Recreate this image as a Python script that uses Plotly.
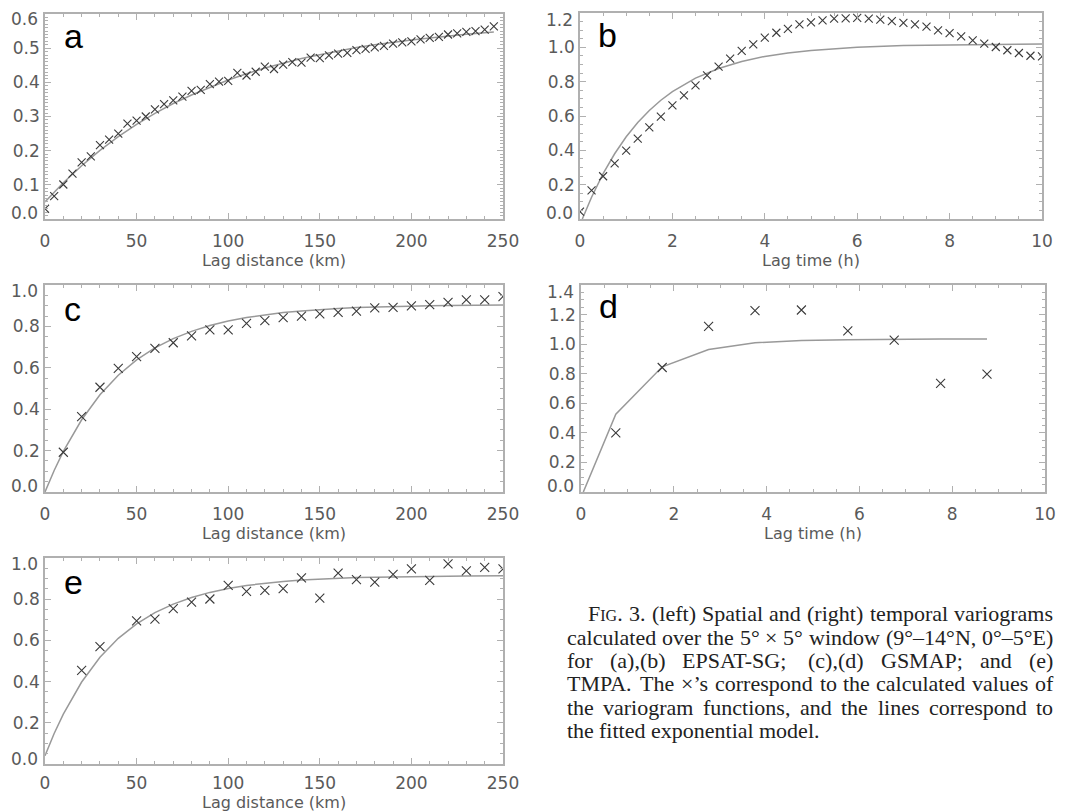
import plotly.graph_objects as go

W, H = 1065, 812
OFF = 8  # the page body margin shifts the figure by this many pixels

# ---------------- data ----------------
# (a) spatial variogram, EPSAT-SG
a_lag = [0, 5, 10, 15, 20, 25, 30, 35, 40, 45, 50, 55, 60, 65, 70, 75, 80, 85, 90, 95,
         100, 105, 110, 115, 120, 125, 130, 135, 140, 145, 150, 155, 160, 165, 170, 175,
         180, 185, 190, 195, 200, 205, 210, 215, 220, 225, 230, 235, 240, 245]
a_val = [0.030, 0.067, 0.101, 0.133, 0.166, 0.183, 0.216, 0.232, 0.250, 0.279, 0.288, 0.300,
         0.321, 0.336, 0.347, 0.358, 0.375, 0.378, 0.395, 0.402, 0.404, 0.428, 0.420, 0.431,
         0.446, 0.439, 0.452, 0.459, 0.458, 0.472, 0.471, 0.479, 0.484, 0.486, 0.494, 0.498,
         0.502, 0.507, 0.513, 0.517, 0.520, 0.526, 0.530, 0.533, 0.540, 0.543, 0.548, 0.550,
         0.554, 0.564]
a_fit_lag = [0, 10, 20, 30, 40, 50, 60, 70, 80, 90, 100, 110, 120, 130, 140, 150, 160, 170,
             180, 190, 200, 210, 220, 230, 240, 245]
a_fit_val = [0.050, 0.106, 0.156, 0.201, 0.241, 0.277, 0.309, 0.338, 0.363, 0.386, 0.407,
             0.425, 0.442, 0.456, 0.470, 0.481, 0.492, 0.502, 0.510, 0.518, 0.524, 0.530,
             0.536, 0.541, 0.545, 0.547]

# (b) temporal variogram, EPSAT-SG
b_lag = [0, 0.25, 0.5, 0.75, 1.0, 1.25, 1.5, 1.75, 2.0, 2.25, 2.5, 2.75, 3.0, 3.25, 3.5, 3.75,
         4.0, 4.25, 4.5, 4.75, 5.0, 5.25, 5.5, 5.75, 6.0, 6.25, 6.5, 6.75, 7.0, 7.25, 7.5, 7.75,
         8.0, 8.25, 8.5, 8.75, 9.0, 9.25, 9.5, 9.75, 10.0]
b_val = [0.043, 0.167, 0.249, 0.324, 0.398, 0.468, 0.534, 0.596, 0.662, 0.720, 0.779, 0.837,
         0.887, 0.934, 0.979, 1.017, 1.056, 1.085, 1.107, 1.134, 1.146, 1.157, 1.167, 1.169,
         1.171, 1.167, 1.161, 1.153, 1.142, 1.134, 1.120, 1.099, 1.083, 1.064, 1.041, 1.021,
         1.002, 0.983, 0.967, 0.951, 0.947]
b_fit_lag = [0.05, 0.25, 0.5, 0.75, 1.0, 1.25, 1.5, 1.75, 2.0, 2.5, 3.0, 3.5, 4.0, 4.5, 5.0,
             6.0, 7.0, 8.0, 9.0, 10.0]
b_fit_val = [0.0, 0.127, 0.264, 0.380, 0.479, 0.562, 0.632, 0.692, 0.742, 0.821, 0.877, 0.918,
             0.947, 0.967, 0.982, 1.001, 1.010, 1.015, 1.017, 1.019]

# (c) spatial variogram, GSMAP
c_lag = [10, 20, 30, 40, 50, 60, 70, 80, 90, 100, 110, 120, 130, 140, 150, 160, 170, 180,
         190, 200, 210, 220, 230, 240, 250]
c_val = [0.192, 0.364, 0.506, 0.597, 0.654, 0.694, 0.721, 0.754, 0.783, 0.783, 0.815, 0.828,
         0.842, 0.850, 0.860, 0.868, 0.874, 0.890, 0.892, 0.899, 0.905, 0.916, 0.928, 0.928,
         0.944]
c_fit_lag = [0, 5, 10, 20, 30, 40, 50, 60, 70, 80, 90, 100, 110, 120, 130, 140, 150, 160, 170,
             180, 190, 200, 210, 220, 230, 240, 250]
c_fit_val = [0.0, 0.104, 0.196, 0.349, 0.470, 0.564, 0.638, 0.696, 0.741, 0.776, 0.804, 0.826,
             0.843, 0.856, 0.867, 0.875, 0.882, 0.887, 0.891, 0.894, 0.896, 0.898, 0.900, 0.901,
             0.902, 0.902, 0.903]

# (d) temporal variogram, GSMAP
d_lag = [0.75, 1.75, 2.75, 3.75, 4.75, 5.75, 6.75, 7.75, 8.75]
d_val = [0.400, 0.842, 1.120, 1.226, 1.231, 1.090, 1.027, 0.734, 0.797]
d_fit_lag = [0.05, 0.75, 1.75, 2.75, 3.75, 4.75, 5.75, 6.75, 7.75, 8.75]
d_fit_val = [0.0, 0.526, 0.847, 0.964, 1.009, 1.025, 1.030, 1.034, 1.034, 1.034]

# (e) spatial variogram, TMPA
e_lag = [20, 30, 50, 60, 70, 80, 90, 100, 110, 120, 130, 140, 150, 160, 170, 180, 190, 200,
         210, 220, 230, 240, 250]
e_val = [0.454, 0.570, 0.695, 0.703, 0.754, 0.786, 0.801, 0.867, 0.838, 0.843, 0.851, 0.903,
         0.805, 0.927, 0.895, 0.883, 0.921, 0.947, 0.891, 0.971, 0.937, 0.955, 0.947]
e_fit_lag = [0, 5, 10, 20, 30, 40, 50, 60, 70, 80, 90, 100, 110, 120, 130, 140, 150, 160, 170,
             180, 190, 200, 210, 220, 230, 240, 250]
e_fit_val = [0.040, 0.148, 0.242, 0.398, 0.518, 0.610, 0.680, 0.735, 0.776, 0.808, 0.833, 0.852,
             0.867, 0.878, 0.886, 0.893, 0.898, 0.902, 0.905, 0.907, 0.909, 0.910, 0.911, 0.912,
             0.913, 0.913, 0.914]

panel_letters = ["a", "b", "c", "d", "e"]
x_titles = ["Lag distance (km)", "Lag time (h)", "Lag distance (km)", "Lag time (h)",
            "Lag distance (km)"]

# caption, word by word ("FIG" is set in small capitals)
caption_lines = [
    "FIG. 3. (left) Spatial and (right) temporal variograms",
    "calculated over the 5° × 5° window (9°–14°N, 0°–5°E)",
    "for (a),(b) EPSAT-SG; (c),(d) GSMAP; and (e)",
    "TMPA. The ×’s correspond to the calculated values of",
    "the variogram functions, and the lines correspond to",
    "the fitted exponential model.",
]

# ---------------- layout geometry (screen pixels) ----------------
frames = [(45, 503, 14, 219), (580, 1042, 13, 219), (45, 503, 285, 492),
          (581, 1045, 285, 492), (45, 503, 558, 764)]
x_ranges = [[0, 250], [0, 10], [0, 250], [0, 10], [0, 250]]
y_ranges = [[0, 0.6], [0, 1.2], [0, 1.0], [0, 1.4], [0, 1.0]]
x_dticks = [50, 2, 50, 2, 50]
x_minor = [10, 0.5, 10, 0.5, 10]
y_dticks = [0.1, 0.2, 0.2, 0.2, 0.2]
y_minor = [0.01, 0.05, 0.05, 0.05, 0.05]
x_label_standoff = [6, 6, 6, 6, 3]
marker_sizes = [8, 8, 9, 9, 9]
letter_pos = [(62, 36), (596, 35), (62, 309), (597, 306), (62, 582)]
# end-of-axis y labels are nudged inside the frame, as in the original
y_end_label_pos = [(213, 19), (213, 20), (486, 291), (486, 292), (759, 564)]
bottom_title_y = 802  # panel (e) title sits at the page's bottom edge


def px(sx):
    return (sx - OFF) / W


def py(sy):
    return 1 - (sy - OFF) / H


series = [(a_lag, a_val, a_fit_lag, a_fit_val), (b_lag, b_val, b_fit_lag, b_fit_val),
          (c_lag, c_val, c_fit_lag, c_fit_val), (d_lag, d_val, d_fit_lag, d_fit_val),
          (e_lag, e_val, e_fit_lag, e_fit_val)]

TICK_FONT = dict(family="DejaVu Sans", size=17, color="#5a5a5a")
TITLE_FONT = dict(family="DejaVu Sans", size=16, color="#5a5a5a")
FRAME = "#b0b0b0"

fig = go.Figure()
layout = dict(width=W, height=H, margin=dict(l=0, r=0, t=0, b=0, autoexpand=False),
              paper_bgcolor="white", plot_bgcolor="white", showlegend=False)
annotations = []

for i, ((L, R, T, B), (xs, ys, fx, fy)) in enumerate(zip(frames, series)):
    n = "" if i == 0 else str(i + 1)
    xa, ya = "x" + n, "y" + n
    fig.add_trace(go.Scatter(x=fx, y=fy, mode="lines", xaxis=xa, yaxis=ya,
                             line=dict(color="#999999", width=1.5)))
    fig.add_trace(go.Scatter(x=xs, y=ys, mode="markers", xaxis=xa, yaxis=ya,
                             marker=dict(symbol="x-thin", size=marker_sizes[i],
                                         line=dict(color="#3a3a3a", width=1.1))))
    common = dict(showline=True, linecolor=FRAME, linewidth=1.5, mirror="ticks",
                  ticks="inside", ticklen=6, tickwidth=1, tickcolor=FRAME,
                  showgrid=False, zeroline=False, tickfont=TICK_FONT,
                  automargin=False, ticklabeloverflow="allow")
    is_last = i == len(frames) - 1
    layout["xaxis" + n] = dict(
        common, domain=[px(L), px(R)], range=x_ranges[i], dtick=x_dticks[i], tick0=0,
        anchor=ya, ticklabelstandoff=x_label_standoff[i],
        minor=dict(dtick=x_minor[i], tick0=0, ticks="inside", ticklen=3,
                   tickcolor=FRAME, showgrid=False),
        title=dict(text="" if is_last else x_titles[i], font=TITLE_FONT, standoff=2))
    y0, y1 = y_ranges[i]
    nstep = int(round((y1 - y0) / y_dticks[i]))
    inner = [round(y0 + k * y_dticks[i], 3) for k in range(1, nstep)]
    layout["yaxis" + n] = dict(
        common, domain=[py(B), py(T)], range=y_ranges[i], tickvals=inner,
        ticktext=["%.1f" % v for v in inner], anchor=xa, ticklabelstandoff=0,
        minor=dict(dtick=y_minor[i], tick0=0, ticks="inside", ticklen=3,
                   tickcolor=FRAME, showgrid=False))
    # the two end labels of the y axis
    for val, sy in zip((y0, y1), y_end_label_pos[i]):
        annotations.append(dict(text="%.1f" % val, x=px(L - 5), y=py(sy), xref="paper",
                                yref="paper", xanchor="right", yanchor="middle",
                                showarrow=False, font=TICK_FONT))
    if is_last:
        annotations.append(dict(text=x_titles[i], x=px((L + R) / 2), y=py(bottom_title_y),
                                xref="paper", yref="paper", xanchor="center",
                                yanchor="middle", showarrow=False, font=TITLE_FONT))
    lx, ly = letter_pos[i]
    annotations.append(dict(text=panel_letters[i], x=px(lx), y=py(ly), xref="paper",
                            yref="paper", xanchor="left", yanchor="middle", showarrow=False,
                            font=dict(family="Liberation Sans", size=34, color="black")))

# --- justified caption (Times metrics, 1/1000 em) ---
CAP_FS, SC_FS = 22, 16
TW = {" ": 250, ".": 250, ",": 250, "(": 333, ")": 333, ";": 278, ":": 278, "-": 333,
      "–": 500, "°": 400, "×": 564, "’": 333}
TW.update({c: 500 for c in "0123456789"})
TW.update(dict(zip("abcdefghijklmnopqrstuvwxyz",
                   [444, 500, 444, 500, 444, 333, 500, 500, 278, 278, 500, 278, 778, 500, 500,
                    500, 500, 333, 389, 278, 500, 500, 722, 500, 500, 444])))
TW.update(dict(zip("ABCDEFGHIJKLMNOPQRSTUVWXYZ",
                   [722, 667, 667, 722, 611, 556, 722, 722, 333, 389, 722, 611, 889, 722, 722,
                    556, 722, 667, 556, 611, 722, 722, 944, 722, 722, 611])))


def word_width(w):
    if w == "FIG.":
        return (TW["F"] + TW["."]) * CAP_FS / 1000 + (TW["I"] + TW["G"]) * SC_FS / 1000
    return sum(TW.get(c, 500) for c in w) * CAP_FS / 1000


def word_text(w):
    if w == "FIG.":
        return "F<span style='font-size:%dpx'>IG</span>." % SC_FS
    return w


cap_y = [613, 637, 660, 683, 707, 730]
cap_x = [587, 566, 566, 566, 566, 566]
cap_right = 1052
cap_font = dict(family="Liberation Serif", size=CAP_FS, color="#222222")
for li, (txt, cx, cy) in enumerate(zip(caption_lines, cap_x, cap_y)):
    words = txt.split(" ")
    widths = [word_width(w) for w in words]
    last = li == len(caption_lines) - 1
    gap = TW[" "] * CAP_FS / 1000 if last else (cap_right - cx - sum(widths)) / (len(words) - 1)
    x = cx
    for w, ww in zip(words, widths):
        annotations.append(dict(text=word_text(w), x=px(x - 1), y=py(cy), xref="paper",
                                yref="paper", xanchor="left", yanchor="middle",
                                showarrow=False, font=cap_font))
        x += ww + gap

layout["annotations"] = annotations
fig.update_layout(**layout)
fig.write_html("out.html")
